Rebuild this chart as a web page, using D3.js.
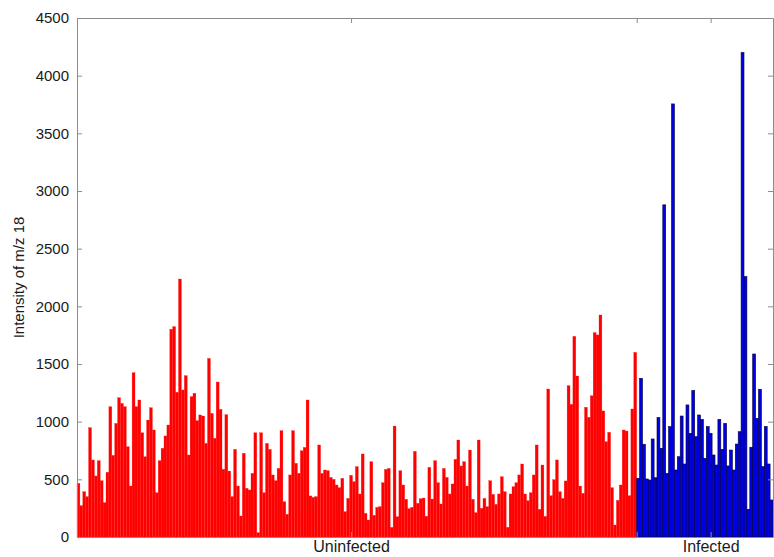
<!DOCTYPE html>
<html>
<head>
<meta charset="utf-8">
<script src="https://cdn.jsdelivr.net/npm/d3@7"></script>
<style>
  body { margin: 0; background: #fff; }
  svg { display: block; }
  text { font-family: "Liberation Sans", Arial, sans-serif; fill: #1a1a1a; }
</style>
</head>
<body>
<div id="container"></div>
<script>
// m/z 18 intensity per sample
const uninfected = [
  465, 272, 393, 350, 948, 668, 529, 662, 488, 298,
  561, 1130, 708, 985, 1208, 1159, 1130, 783, 442, 1425,
  1130, 1188, 904, 696, 1014, 1121, 928, 384, 662, 769,
  876, 971, 1801, 1824, 1255, 2237, 1275, 1399, 711, 1217,
  1246, 1009, 1058, 1049, 812, 1549, 1072, 856, 1344, 1107,
  587, 1061, 572, 350, 760, 442, 182, 726, 422, 408,
  552, 904, 38, 904, 384, 812, 760, 538, 488, 595,
  922, 306, 197, 538, 922, 639, 552, 748, 777, 1188,
  356, 344, 350, 798, 552, 581, 575, 517, 500, 451,
  428, 509, 220, 335, 535, 480, 610, 373, 720, 205,
  147, 653, 188, 257, 263, 471, 587, 595, 84, 962,
  176, 575, 451, 327, 246, 257, 743, 292, 332, 338,
  180, 604, 329, 662, 471, 286, 595, 517, 373, 460,
  673, 841, 616, 653, 442, 754, 327, 211, 841, 249,
  335, 263, 488, 370, 283, 373, 523, 393, 84, 373,
  436, 471, 538, 633, 373, 315, 384, 538, 798, 240,
  624, 179, 1283, 358, 497, 668, 393, 335, 486, 1312,
  1150, 1740, 1396, 442, 379, 1125, 1038, 1225, 1772, 1752,
  1925, 1093, 827, 908, 428, 104, 318, 451, 928, 919,
  358, 1110, 1601
];
const infected = [
  509, 1376, 804, 503, 494, 850, 514, 1035, 769, 2880,
  552, 957, 3755, 581, 696, 1049, 633, 1145, 899, 1269,
  870, 1058, 1020, 682, 957, 899, 711, 624, 1020, 760,
  985, 616, 754, 581, 806, 913, 4200, 2257, 240, 778,
  1587, 1029, 1281, 610, 957, 633, 321
];
const yTicks = [0, 500, 1000, 1500, 2000, 2500, 3000, 3500, 4000, 4500];
const xTickPos = [95, 193.5, 219];
const xTickLabels = ["Uninfected", "", "Infected"];
const yLabel = "Intensity of m/z 18";

const w = 774, h = 557;
const mLeft = 77, mRight = 773, mTop = 18, mBottom = 537;

const bars = uninfected.map((v, i) => ({ i: i + 1, v: v, g: "u" }))
  .concat(infected.map((v, i) => ({ i: uninfected.length + i + 1, v: v, g: "i" })));
const n = bars.length;

const svg = d3.select("#container")
  .append("svg")
  .attr("width", w)
  .attr("height", h);

const xScale = d3.scaleLinear().domain([0.5, n + 0.5]).range([mLeft, mRight]);
const yScale = d3.scaleLinear().domain([0, 4500]).range([mBottom, mTop]);

svg.append("g")
  .selectAll("rect")
  .data(bars)
  .enter()
  .append("rect")
  .attr("x", (d) => xScale(d.i - 0.5))
  .attr("width", (d) => xScale(d.i + 0.5) - xScale(d.i - 0.5))
  .attr("y", (d) => yScale(d.v))
  .attr("height", (d) => yScale(0) - yScale(d.v))
  .attr("fill", (d) => d.g === "u" ? "#ff0000" : "#0000e6")
  .attr("stroke", (d) => d.g === "u" ? "#ff2020" : "#00003a")
  .attr("stroke-width", (d) => d.g === "u" ? 0.3 : 0.6);

// axes, ticks pointing inward like the original
const axisColor = "#8c8c8c";
function style(g) {
  g.select(".domain").attr("stroke", axisColor);
  g.selectAll(".tick line").attr("stroke", axisColor);
  g.selectAll("text").style("font-size", "15px").attr("fill", "#1a1a1a");
}

svg.append("g")
  .attr("transform", "translate(0," + mBottom + ")")
  .call(d3.axisBottom(xScale).tickValues(xTickPos)
    .tickFormat((d, i) => xTickLabels[i]).tickSizeInner(-5).tickSizeOuter(0).tickPadding(4))
  .call(style)
  .call((g) => g.selectAll("text").style("font-size", "16px"));

svg.append("g")
  .attr("transform", "translate(0," + mTop + ")")
  .call(d3.axisTop(xScale).tickValues(xTickPos)
    .tickFormat("").tickSizeInner(-5).tickSizeOuter(0))
  .call(style);

svg.append("g")
  .attr("transform", "translate(" + mLeft + ",0)")
  .call(d3.axisLeft(yScale).tickValues(yTicks)
    .tickFormat(d3.format("d")).tickSizeInner(-5).tickSizeOuter(0).tickPadding(8))
  .call(style);

svg.append("g")
  .attr("transform", "translate(" + mRight + ",0)")
  .call(d3.axisRight(yScale).tickValues(yTicks)
    .tickFormat("").tickSizeInner(-5).tickSizeOuter(0))
  .call(style);

svg.append("text")
  .attr("transform", "translate(24," + ((mTop + mBottom) / 2) + ") rotate(-90)")
  .attr("text-anchor", "middle")
  .style("font-size", "15px")
  .text(yLabel);
</script>
</body>
</html>
